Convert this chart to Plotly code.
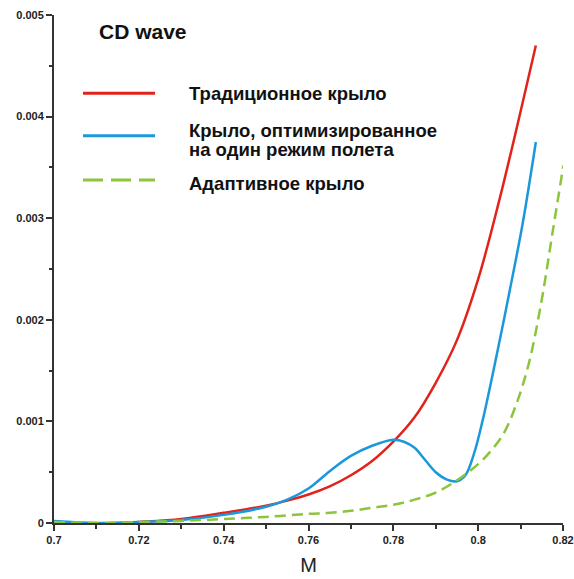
import plotly.graph_objects as go

# Traditional wing
m_trad = [0.70, 0.71, 0.72, 0.73, 0.74, 0.75, 0.755, 0.76, 0.765, 0.77, 0.775, 0.78, 0.785, 0.79, 0.795, 0.80, 0.805, 0.81, 0.8136]
cd_trad = [0.0, -0.00001, 0.00001, 0.00004, 0.0001, 0.00017, 0.00022, 0.00028, 0.00036, 0.00047, 0.00061, 0.0008, 0.00104, 0.00138, 0.0018, 0.0024, 0.00318, 0.00405, 0.0047]

# Wing optimized for one flight regime
m_opt = [0.70, 0.71, 0.72, 0.73, 0.74, 0.75, 0.755, 0.76, 0.765, 0.77, 0.775, 0.78, 0.7825, 0.785, 0.7875, 0.79, 0.7925, 0.795, 0.797, 0.799, 0.801, 0.8045, 0.8075, 0.8105, 0.8136]
cd_opt = [0.00002, 0.0, 0.00001, 0.00003, 0.00008, 0.00016, 0.00023, 0.00034, 0.00051, 0.00066, 0.00076, 0.00082, 0.0008, 0.00074, 0.00062, 0.0005, 0.00043, 0.00041, 0.00047, 0.00068, 0.001, 0.00168, 0.0023, 0.00295, 0.00375]

# Adaptive wing
m_adapt = [0.70, 0.71, 0.72, 0.73, 0.74, 0.75, 0.76, 0.765, 0.77, 0.775, 0.78, 0.785, 0.79, 0.795, 0.80, 0.803, 0.806, 0.809, 0.812, 0.815, 0.8175, 0.8201]
cd_adapt = [0.00001, 0.0, 0.00001, 0.00002, 0.00004, 0.00006, 0.00009, 0.0001, 0.00012, 0.00015, 0.00018, 0.00023, 0.0003, 0.00042, 0.00058, 0.00071, 0.00088, 0.00117, 0.00158, 0.0022, 0.00285, 0.00352]

x_ticks = [0.70, 0.72, 0.74, 0.76, 0.78, 0.80, 0.82]
x_labels = ["0.7", "0.72", "0.74", "0.76", "0.78", "0.8", "0.82"]
y_ticks = [0, 0.001, 0.002, 0.003, 0.004, 0.005]
y_labels = ["0", "0.001", "0.002", "0.003", "0.004", "0.005"]

title_text = "CD wave"
legend_lines = [["Традиционное крыло"], ["Крыло, оптимизированное", "на один режим полета"], ["Адаптивное крыло"]]
RED = "#e2231a"
BLUE = "#1b98dc"
GREEN = "#8cc43c"

fig = go.Figure()
fig.add_trace(go.Scatter(x=m_trad, y=cd_trad, mode="lines", line=dict(color=RED, width=2.5, shape="spline", smoothing=1.0), showlegend=False))
fig.add_trace(go.Scatter(x=m_opt, y=cd_opt, mode="lines", line=dict(color=BLUE, width=2.5, shape="spline", smoothing=1.0), showlegend=False))
fig.add_trace(go.Scatter(x=m_adapt, y=cd_adapt, mode="lines", line=dict(color=GREEN, width=2.5, dash="11px,6px", shape="spline", smoothing=1.0), showlegend=False))

font_fam = "Liberation Sans, Arial, sans-serif"
axis_common = dict(showline=True, linecolor="#333333", linewidth=2, showgrid=False, zeroline=False,
                   ticks="outside", ticklen=6, tickwidth=1.5, tickcolor="#333333", automargin=False,
                   tickfont=dict(family=font_fam, size=11, color="#222222"))

fig.update_layout(
    width=574, height=579,
    margin=dict(l=54, r=11, t=15, b=56),
    paper_bgcolor="white", plot_bgcolor="white",
    xaxis=dict(range=[0.7, 0.82], tickvals=x_ticks, ticktext=["<b>" + t + "</b>" for t in x_labels],
               minor=dict(ticks="outside", ticklen=4, tickwidth=1.5, tickcolor="#333333", dtick=0.01, tick0=0.7),
               title=dict(text="M", font=dict(family=font_fam, size=20, color="#222222"), standoff=13),
               **axis_common),
    yaxis=dict(range=[0, 0.005], tickvals=y_ticks, ticktext=["<b>" + t + "</b>" for t in y_labels],
               minor=dict(ticks="outside", ticklen=3, tickwidth=1.5, tickcolor="#333333", dtick=0.0005, tick0=0),
               **axis_common),
    showlegend=False,
)

def px_to_paper(px, py):
    return (px - 54) / 509, (523 - py) / 508

# Title annotation
tx, ty = px_to_paper(96.5, 31.5)
fig.add_annotation(xref="paper", yref="paper", x=tx, y=ty, xanchor="left", yanchor="middle",
                   text="<b>" + title_text + "</b>", showarrow=False, font=dict(family=font_fam, size=21, color="#111111"))

# Custom legend
legend_rows = [(93.3, [93.3], RED, "solid"), (135.7, [130.5, 149], BLUE, "solid"), (180, [183.3], GREEN, "20px,8px")]
for (ly, text_ys, col, dash), lines in zip(legend_rows, legend_lines):
    x0, yl = px_to_paper(83, ly)
    x1, _ = px_to_paper(155, ly)
    fig.add_shape(type="line", xref="paper", yref="paper", x0=x0, x1=x1, y0=yl, y1=yl,
                  line=dict(color=col, width=3, dash=dash))
    for t_y, line_text in zip(text_ys, lines):
        ax_, ay_ = px_to_paper(186.5, t_y)
        fig.add_annotation(xref="paper", yref="paper", x=ax_, y=ay_, xanchor="left", yanchor="middle",
                           text="<b>" + line_text + "</b>", showarrow=False, align="left",
                           font=dict(family=font_fam, size=18.5, color="#111111"))

fig.write_html("out.html")
